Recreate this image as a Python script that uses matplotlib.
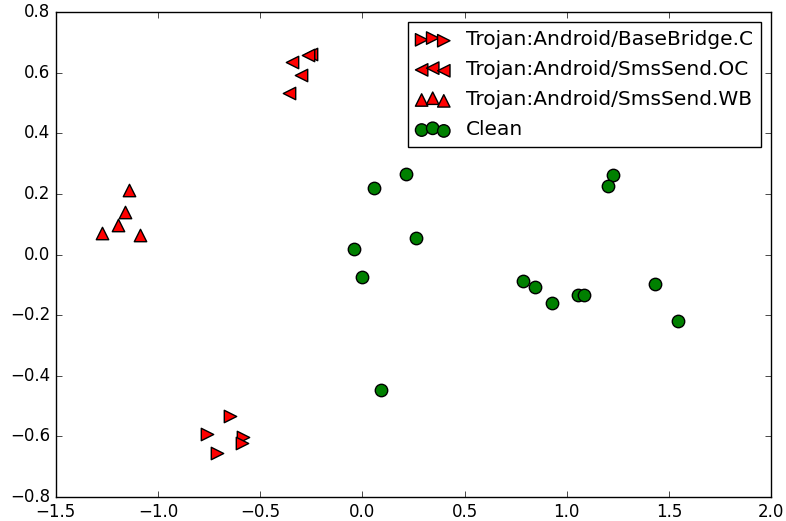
import matplotlib
matplotlib.use("Agg")
import matplotlib.pyplot as plt

plt.style.use("classic")

bb_x = [-0.648, -0.761, -0.712, -0.585, -0.590]
bb_y = [-0.533, -0.592, -0.655, -0.602, -0.622]

oc_x = [-0.345, -0.252, -0.267, -0.301, -0.360]
oc_y = [0.635, 0.661, 0.658, 0.592, 0.533]

wb_x = [-1.143, -1.162, -1.197, -1.275, -1.089]
wb_y = [0.213, 0.140, 0.097, 0.071, 0.064]

cl_x = [0.213, 0.057, 0.262, -0.041, -0.002, 0.091,
        1.226, 1.202, 0.786, 0.845, 0.928, 1.055, 1.084, 1.432, 1.545]
cl_y = [0.266, 0.219, 0.054, 0.018, -0.074, -0.447,
        0.262, 0.226, -0.087, -0.107, -0.160, -0.134, -0.134, -0.097, -0.219]

labels = ["Trojan:Android/BaseBridge.C", "Trojan:Android/SmsSend.OC",
          "Trojan:Android/SmsSend.WB", "Clean"]

fig = plt.figure(figsize=(7.86, 5.21), dpi=100, facecolor="white")
ax = fig.add_axes([0.071, 0.046, 0.910, 0.931])

s = 80
ax.scatter(bb_x, bb_y, marker=">", c="r", s=s, edgecolors="k", label=labels[0])
ax.scatter(oc_x, oc_y, marker="<", c="r", s=s, edgecolors="k", label=labels[1])
ax.scatter(wb_x, wb_y, marker="^", c="r", s=s, edgecolors="k", label=labels[2])
ax.scatter(cl_x, cl_y, marker="o", c="g", s=s, edgecolors="k", label=labels[3])

ax.set_xlim(-1.5, 2.0)
ax.set_ylim(-0.8, 0.8)
ax.legend(loc="upper right", fontsize=14.5, borderaxespad=0.5,
          markerscale=1.0, handlelength=1.7, labelspacing=0.55)

fig.savefig("out.png", dpi=100, facecolor="white")
